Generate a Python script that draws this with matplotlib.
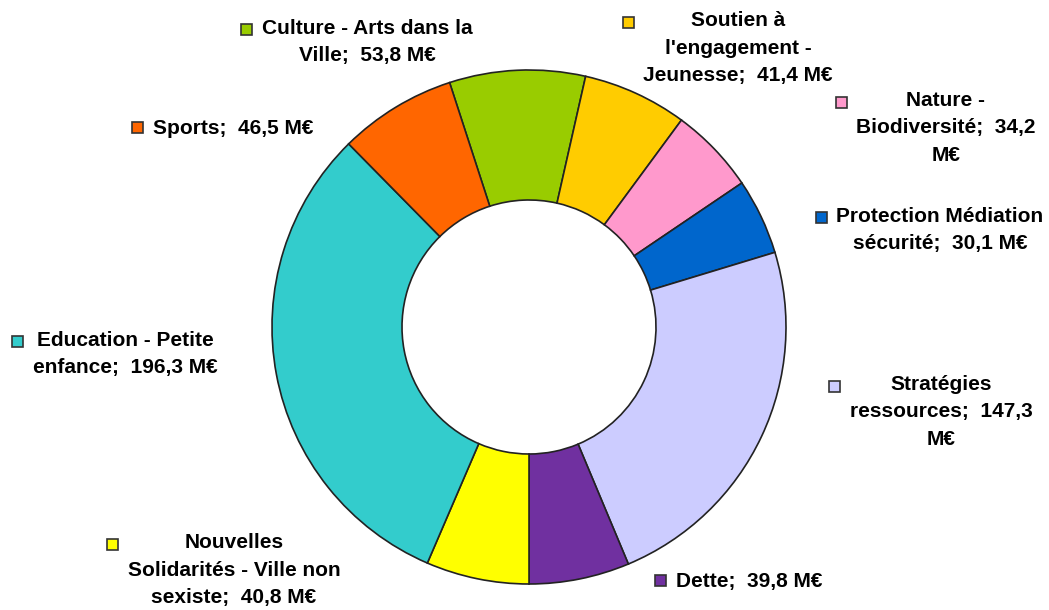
import matplotlib
matplotlib.use("Agg")
from matplotlib import pyplot as plt
from matplotlib.patches import Rectangle

plt.rcParams['font.family'] = ['Liberation Sans', 'DejaVu Sans']

labels = ["Culture - Arts dans la\nVille", "Soutien à\nl'engagement -\nJeunesse",
          "Nature -\nBiodiversité", "Protection Médiation\nsécurité",
          "Stratégies\nressources", "Dette",
          "Nouvelles\nSolidarités - Ville non\nsexiste", "Education - Petite\nenfance",
          "Sports"]
values = [53.8, 41.4, 34.2, 30.1, 147.3, 39.8, 40.8, 196.3, 46.5]
colors = ['#99CC00', '#FFCC00', '#FF99CC', '#0066CC', '#CCCCFF',
          '#7030A0', '#FFFF00', '#33CCCC', '#FF6600']

# label text as displayed (line breaks like the original)
texts = ["Culture - Arts dans la\nVille;  53,8 M€",
         "Soutien à\nl'engagement -\nJeunesse;  41,4 M€",
         "Nature -\nBiodiversité;  34,2\nM€",
         "Protection Médiation\nsécurité;  30,1 M€",
         "Stratégies\nressources;  147,3\nM€",
         "Dette;  39,8 M€",
         "Nouvelles\nSolidarités - Ville non\nsexiste;  40,8 M€",
         "Education - Petite\nenfance;  196,3 M€",
         "Sports;  46,5 M€"]

W, H = 1049, 610
fig = plt.figure(figsize=(W / 100, H / 100), dpi=100)
ax = fig.add_axes([0, 0, 1, 1])

ax.pie(values, colors=colors, startangle=108, counterclock=False,
       center=(529, H - 327), radius=257, frame=True,
       wedgeprops=dict(width=130, edgecolor='#222222', linewidth=1.2))
ax.set_xlim(0, W)
ax.set_ylim(0, H)
ax.set_aspect('equal')
ax.axis('off')

# label block centres in pixels (x, y from top)
label_pos = [(367, 42), (738, 48), (946, 128), (940, 230), (941, 412),
             (749, 581), (234, 570), (125, 354), (233, 128)]

FS = 15
fig.canvas.draw()
renderer = fig.canvas.get_renderer()
for t, (px, py), c in zip(texts, label_pos, colors):
    txt = ax.text(px, H - py, t, ha='center', va='center', multialignment='center',
                  fontsize=FS, fontweight='bold', linespacing=1.55, color='black')
    bb = txt.get_window_extent(renderer)
    nlines = t.count('\n') + 1
    line_h = bb.height / nlines
    first_line_y = bb.y1 - line_h / 2 + 1
    first = t.split('\n')[0]
    tmp = ax.text(0, 0, first, fontsize=FS, fontweight='bold')
    fw = tmp.get_window_extent(renderer).width
    tmp.remove()
    left = min(bb.x0, px - fw / 2)
    mx = left - 15
    s = 11
    ax.add_patch(Rectangle((mx - s / 2, first_line_y - s / 2), s, s,
                           facecolor=c, edgecolor='#333333', linewidth=1.2))

fig.savefig('out.png', dpi=100)
